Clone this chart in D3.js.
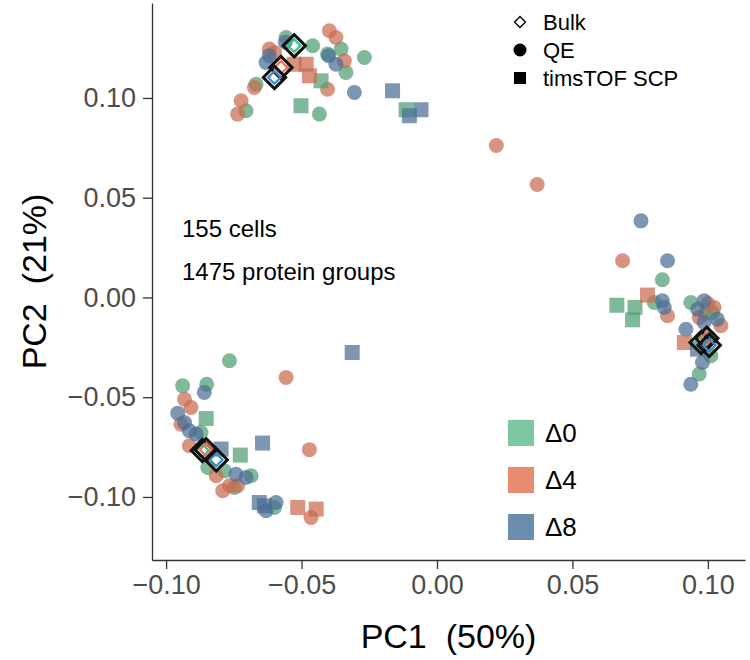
<!DOCTYPE html>
<html>
<head>
<meta charset="utf-8">
<script src="https://cdn.jsdelivr.net/npm/d3@7"></script>
<style>
  body { margin: 0; background: #fff; }
  text { font-family: "Liberation Sans", Arial, Helvetica, sans-serif; }
</style>
</head>
<body>
<div class="chart"></div>
<script>
// PCA of single cells: [PC1, PC2]
var conditions = ["Δ0", "Δ4", "Δ8"];
var xTicks = [-0.10, -0.05, 0.00, 0.05, 0.10];
var yTicks = [-0.10, -0.05, 0.00, 0.05, 0.10];

var qeD0 = [[-0.0557,0.1303],[-0.0459,0.1262],[-0.0354,0.1245],[-0.0404,0.1220],[-0.0336,0.1128],[-0.0268,0.1203],
            [-0.0668,0.1069],[-0.0705,0.0936],[-0.0434,0.0919],
            [0.0832,0.0089],[0.0802,-0.0025],[0.0937,-0.0025],[0.1017,-0.0075],[0.0990,-0.0080],[0.1005,-0.0200],
            [0.1011,-0.0292],[0.0968,-0.0384],
            [-0.0766,-0.0317],[-0.0939,-0.0443],[-0.0850,-0.0435],[-0.0871,-0.0677],[-0.0846,-0.0852],[-0.0785,-0.0869],
            [-0.0686,-0.0894],[-0.0748,-0.0952],[-0.0600,-0.1053]];
var qeD4 = [[-0.0397,0.1337],[-0.0373,0.1303],[-0.0342,0.1186],[-0.0600,0.1228],[-0.0619,0.1245],[-0.0674,0.1053],
            [-0.0404,0.1044],[-0.0723,0.0986],[-0.0736,0.0919],
            [0.0219,0.0762],[0.0370,0.0566],
            [0.0685,0.0184],[0.0851,-0.0092],[0.1023,-0.0050],[0.0968,-0.0100],[0.1048,-0.0142],[0.1000,-0.0030],
            [-0.0557,-0.0401],[-0.0932,-0.0510],[-0.0908,-0.0551],[-0.0945,-0.0635],[-0.0914,-0.0743],[-0.0471,-0.0763],
            [-0.0815,-0.0894],[-0.0766,-0.0944],[-0.0791,-0.0969],[-0.0736,-0.0944],[-0.0465,-0.1103]];
var qeD8 = [[-0.0619,0.1212],[-0.0631,0.1178],[-0.0373,0.1169],[-0.0305,0.1028],[-0.0400,0.1212],[-0.0560,0.1280],
            [0.0753,0.0384],[0.0851,0.0184],[0.0832,-0.0017],[0.0839,-0.0050],[0.0986,-0.0017],[0.0962,-0.0059],
            [0.1035,-0.0109],[0.0986,-0.0125],[0.0919,-0.0159],[0.0980,-0.0326],[0.0937,-0.0435],
            [-0.0859,-0.0476],[-0.0957,-0.0580],[-0.0932,-0.0627],[-0.0914,-0.0668],[-0.0889,-0.0685],
            [-0.0742,-0.0886],[-0.0705,-0.0902],[-0.0631,-0.1069],[-0.0594,-0.1028]];
var timsD0 = [[-0.0428,0.1086],[-0.0502,0.0961],[-0.0114,0.0941],
              [0.0664,-0.0039],[0.0731,-0.0050],[0.0722,-0.0112],
              [-0.0852,-0.0607],[-0.0726,-0.0790]];
var timsD4 = [[-0.0483,0.1169],[-0.0471,0.1111],[-0.0527,0.1169],
              [0.0777,0.0012],[0.0913,-0.0226],
              [-0.0514,-0.1053],[-0.0446,-0.1061]];
var timsD8 = [[-0.0164,0.1036],[-0.0059,0.0941],[-0.0102,0.0911],
              [-0.0313,-0.0276],[0.0962,-0.0259],
              [-0.0644,-0.0730],[-0.0797,-0.0760],[-0.0656,-0.1028],[-0.0637,-0.1044]];
var bulkD0 = [[-0.0527,0.1262],[0.0975,-0.0226],[-0.0866,-0.0767]];
var bulkD4 = [[-0.0576,0.1153],[0.0996,-0.0205],[-0.0852,-0.0763]];
var bulkD8 = [[-0.0600,0.1103],[0.1005,-0.0240],[-0.0815,-0.0814]];

var pointColors = ["#4f9e73", "#c96b4d", "#4b6e93"];
var keyColors = ["#7cc8a2", "#e88b6e", "#6a8db0"];
var bulkColors = ["#3fbf85", "#f0714f", "#3f88c4"];

var width = 750, height = 660;
var panelLeft = 152, panelRight = 745, panelTop = 3, panelBottom = 560;

var svg = d3.select(".chart").append("svg").attr("width", width).attr("height", height);

var x = d3.scaleLinear().domain([-0.1052, 0.1137]).range([panelLeft, panelRight]);
var y = d3.scaleLinear().domain([-0.1316, 0.1476]).range([panelBottom, panelTop]);

// axes
var xAxis = svg.append("g").attr("transform", "translate(0," + panelBottom + ")")
    .call(d3.axisBottom(x).tickValues(xTicks).tickFormat(d3.format(".2f")).tickSizeInner(9).tickSizeOuter(0).tickPadding(6));
var yAxis = svg.append("g").attr("transform", "translate(" + panelLeft + ",0)")
    .call(d3.axisLeft(y).tickValues(yTicks).tickFormat(d3.format(".2f")).tickSizeInner(9).tickSizeOuter(0).tickPadding(7));
[xAxis, yAxis].forEach(function(a) {
    a.select(".domain").attr("stroke", "#333").attr("stroke-width", 1.3);
    a.selectAll(".tick line").attr("stroke", "#333").attr("stroke-width", 1.3);
    a.selectAll(".tick text").attr("fill", "#4d4d4d").style("font-size", "27px")
        .style("font-family", "'Liberation Sans', Arial, sans-serif");
});

svg.append("text").text("PC1  (50%)")
    .attr("x", (panelLeft + panelRight) / 2).attr("y", 648)
    .attr("text-anchor", "middle").style("font-size", "34px").attr("fill", "#000")
    .style("white-space", "pre");
svg.append("text").text("PC2  (21%)")
    .attr("transform", "translate(46," + ((panelTop + panelBottom) / 2) + ") rotate(-90)")
    .attr("text-anchor", "middle").style("font-size", "34px").attr("fill", "#000")
    .style("white-space", "pre");

// annotation
svg.append("text").text("155 cells").attr("x", 182).attr("y", 237).style("font-size", "24px");
svg.append("text").text("1475 protein groups").attr("x", 182).attr("y", 280).style("font-size", "24px");

var plot = svg.append("g");

var circleSets = [qeD0, qeD4, qeD8];
var squareSets = [timsD0, timsD4, timsD8];
var bulkSets = [bulkD0, bulkD4, bulkD8];

circleSets.forEach(function(set, i) {
    plot.selectAll(null).data(set).enter().append("circle")
        .attr("cx", function(d) { return x(d[0]); })
        .attr("cy", function(d) { return y(d[1]); })
        .attr("r", 7.5)
        .attr("fill", pointColors[i])
        .attr("fill-opacity", 0.72);
});

squareSets.forEach(function(set, i) {
    plot.selectAll(null).data(set).enter().append("rect")
        .attr("x", function(d) { return x(d[0]) - 7.5; })
        .attr("y", function(d) { return y(d[1]) - 7.5; })
        .attr("width", 15).attr("height", 15)
        .attr("fill", pointColors[i])
        .attr("fill-opacity", 0.72);
});

var outerDiamond = d3.symbol().type(d3.symbolSquare).size(250);
var innerDiamond = d3.symbol().type(d3.symbolSquare).size(80);

bulkSets.forEach(function(set, i) {
    var g = plot.selectAll(null).data(set).enter().append("g")
        .attr("transform", function(d) { return "translate(" + x(d[0]) + "," + y(d[1]) + ") rotate(45)"; });
    g.append("path").attr("d", outerDiamond).attr("fill", "none").attr("stroke", "#111").attr("stroke-width", 3);
    g.append("path").attr("d", innerDiamond).attr("fill", "none").attr("stroke", bulkColors[i]).attr("stroke-width", 2.2);
});

// shape legend
var shapeKeys = ["Bulk", "QE", "timsTOF SCP"];
var shapeLegend = svg.append("g").attr("transform", "translate(520,22)");
shapeKeys.forEach(function(k, i) {
    var row = shapeLegend.append("g").attr("transform", "translate(0," + (i * 28) + ")");
    if (i === 0) {
        row.append("path").attr("d", d3.symbol().type(d3.symbolSquare).size(60)).attr("transform", "rotate(45)")
            .attr("fill", "none").attr("stroke", "#000").attr("stroke-width", 1.3);
    } else if (i === 1) {
        row.append("circle").attr("r", 6.5).attr("fill", "#000");
    } else {
        row.append("rect").attr("x", -6).attr("y", -6).attr("width", 12).attr("height", 12).attr("fill", "#000");
    }
    row.append("text").text(k).attr("x", 23).attr("y", 8).style("font-size", "22px");
});

// colour legend
var colourLegend = svg.append("g").attr("transform", "translate(508,420)");
conditions.forEach(function(c, i) {
    colourLegend.append("rect").attr("x", 0).attr("y", i * 47).attr("width", 26).attr("height", 26)
        .attr("fill", keyColors[i]);
    colourLegend.append("text").text(c).attr("x", 37).attr("y", i * 47 + 22).style("font-size", "26px");
});
</script>
</body>
</html>
